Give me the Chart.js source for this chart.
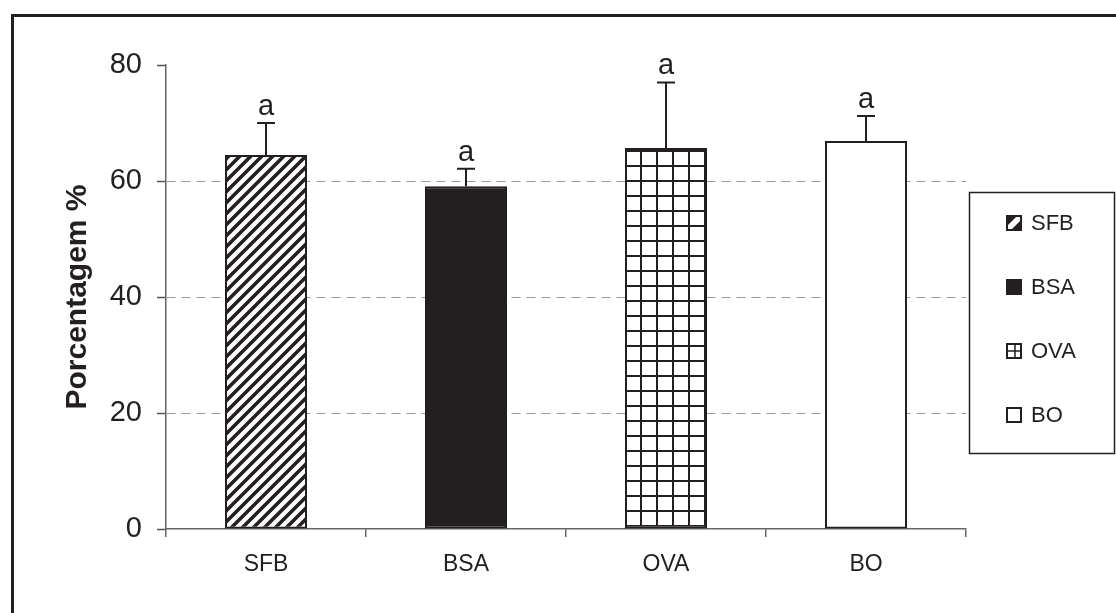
<!DOCTYPE html>
<html>
<head>
<meta charset="utf-8">
<script src="https://cdn.jsdelivr.net/npm/chart.js@4"></script>
<style>
  html, body { margin: 0; padding: 0; background: #fff; }
  #wrap { position: relative; width: 1116px; height: 613px; }
  #frame { position: absolute; left: 11px; top: 14px; width: 1200px; height: 700px;
           border-left: 3px solid #231f20; border-top: 3px solid #231f20; box-sizing: border-box; }
  canvas { position: absolute; left: 0; top: 0; }
</style>
</head>
<body>
<div id="wrap">
  <div id="frame"></div>
  <canvas id="chart" width="1116" height="613"></canvas>
</div>
<script>
// values
const categories = ['SFB', 'BSA', 'OVA', 'BO'];
const means = [64.5, 59.1, 65.7, 66.9];
const errors = [5.5, 3.0, 11.3, 4.3];
const letters = ['a', 'a', 'a', 'a'];
const yTicks = [0, 20, 40, 60, 80];

const ink = '#231f20';
const fontName = '"Liberation Sans", Arial, sans-serif';

// fill patterns
const makeTile = (w, h, draw) => {
    const c = document.createElement('canvas');
    c.width = w; c.height = h;
    const g = c.getContext('2d');
    g.fillStyle = '#fff';
    g.fillRect(0, 0, w, h);
    g.strokeStyle = ink;
    draw(g, w, h);
    return c;
};

const diagTile = makeTile(11, 11, (g, w, h) => {
    g.lineWidth = 3.6;
    g.beginPath();
    g.moveTo(-2, h + 2); g.lineTo(w + 2, -2);
    g.moveTo(-2, 2); g.lineTo(2, -2);
    g.moveTo(w - 2, h + 2); g.lineTo(w + 2, h - 2);
    g.stroke();
});

const gridTile = makeTile(16, 15, (g, w, h) => {
    g.lineWidth = 2;
    g.beginPath();
    g.moveTo(1, 0); g.lineTo(1, h);
    g.moveTo(0, 1); g.lineTo(w, 1);
    g.stroke();
});

const ctx = document.getElementById('chart').getContext('2d');
const fills = [
    ctx.createPattern(diagTile, 'repeat'),
    ink,
    ctx.createPattern(gridTile, 'repeat'),
    '#ffffff'
];

const errorBars = {
    id: 'errorBars',
    afterDatasetsDraw(chart) {
        const c = chart.ctx;
        const y = chart.scales.y;
        const meta = chart.getDatasetMeta(0);
        c.save();
        c.strokeStyle = ink;
        c.fillStyle = ink;
        c.lineWidth = 2;
        c.font = '29px ' + fontName;
        c.textAlign = 'center';
        c.textBaseline = 'alphabetic';
        meta.data.forEach((bar, i) => {
            const yBase = y.getPixelForValue(means[i]);
            const yTop = y.getPixelForValue(means[i] + errors[i]);
            c.beginPath();
            c.moveTo(bar.x, yBase);
            c.lineTo(bar.x, yTop);
            c.moveTo(bar.x - 9, yTop);
            c.lineTo(bar.x + 9, yTop);
            c.stroke();
            c.fillText(letters[i], bar.x, yTop - 8);
        });
        c.restore();
    }
};

// small legend swatches, drawn by hand so they read at 14px
const drawSwatch = (c, i, x, y, s) => {
    c.fillStyle = i === 1 ? ink : '#fff';
    c.fillRect(x, y, s, s);
    c.strokeStyle = ink;
    c.lineWidth = 2;
    if (i === 0) {
        c.fillStyle = ink;
        c.beginPath();
        c.moveTo(x, y); c.lineTo(x + s - 4, y); c.lineTo(x, y + s - 4); c.closePath();
        c.moveTo(x + s, y + 4); c.lineTo(x + s, y + s); c.lineTo(x + 4, y + s); c.closePath();
        c.fill();
    }
    if (i === 2) {
        c.lineWidth = 1.5;
        c.beginPath();
        c.moveTo(x, y + s / 2); c.lineTo(x + s, y + s / 2);
        c.moveTo(x + s / 2 + 1, y); c.lineTo(x + s / 2 + 1, y + s);
        c.stroke();
        c.lineWidth = 2;
    }
    c.strokeRect(x, y, s, s);
};

const boxLegend = {
    id: 'boxLegend',
    afterDraw(chart) {
        const c = chart.ctx;
        c.save();
        c.strokeStyle = ink;
        c.lineWidth = 1.5;
        c.strokeRect(969.5, 192.5, 145, 261);
        c.font = '22px ' + fontName;
        c.textBaseline = 'middle';
        c.textAlign = 'left';
        categories.forEach((name, i) => {
            const cy = 223 + i * 64;
            drawSwatch(c, i, 1007, cy - 7, 14);
            c.fillStyle = ink;
            c.fillText(name, 1031, cy + 1);
        });
        c.restore();
    }
};

new Chart(ctx, {
    type: 'bar',
    data: {
        labels: categories,
        datasets: [{
            data: means,
            backgroundColor: fills,
            borderColor: ink,
            borderWidth: 2,
            borderSkipped: false,
            categoryPercentage: 1,
            barPercentage: 0.41
        }]
    },
    options: {
        responsive: false,
        animation: false,
        events: [],
        layout: { padding: { left: 0, top: 65, right: 150, bottom: 0 } },
        plugins: {
            legend: { display: false },
            tooltip: { enabled: false }
        },
        scales: {
            x: {
                afterFit: (s) => { s.height = 84; },
                grid: {
                    offset: true,
                    drawOnChartArea: false,
                    tickLength: 8,
                    color: '#666',
                    lineWidth: 1.5
                },
                border: { color: '#666', width: 1.5 },
                ticks: {
                    padding: 14,
                    color: ink,
                    font: { family: fontName, size: 23 }
                }
            },
            y: {
                min: 0,
                max: 80,
                afterFit: (s) => { s.width = 166; },
                afterBuildTicks: (s) => { s.ticks = yTicks.map(v => ({ value: v })); },
                grid: {
                    tickLength: 9,
                    lineWidth: 1,
                    color: (c) => (c.tick && (c.tick.value === 0 || c.tick.value === 80)) ? 'rgba(0,0,0,0)' : '#9a9a9a',
                    tickColor: '#555',
                    tickWidth: 1.5
                },
                border: { color: '#666', width: 1.5, dash: [9, 6] },
                ticks: {
                    padding: 15,
                    color: ink,
                    font: { family: fontName, size: 29 }
                },
                title: {
                    display: true,
                    text: 'Porcentagem %',
                    color: ink,
                    padding: { top: 60, bottom: 0 },
                    font: { family: fontName, size: 30, weight: 'bold' }
                }
            }
        }
    },
    plugins: [errorBars, boxLegend]
});
</script>
</body>
</html>
